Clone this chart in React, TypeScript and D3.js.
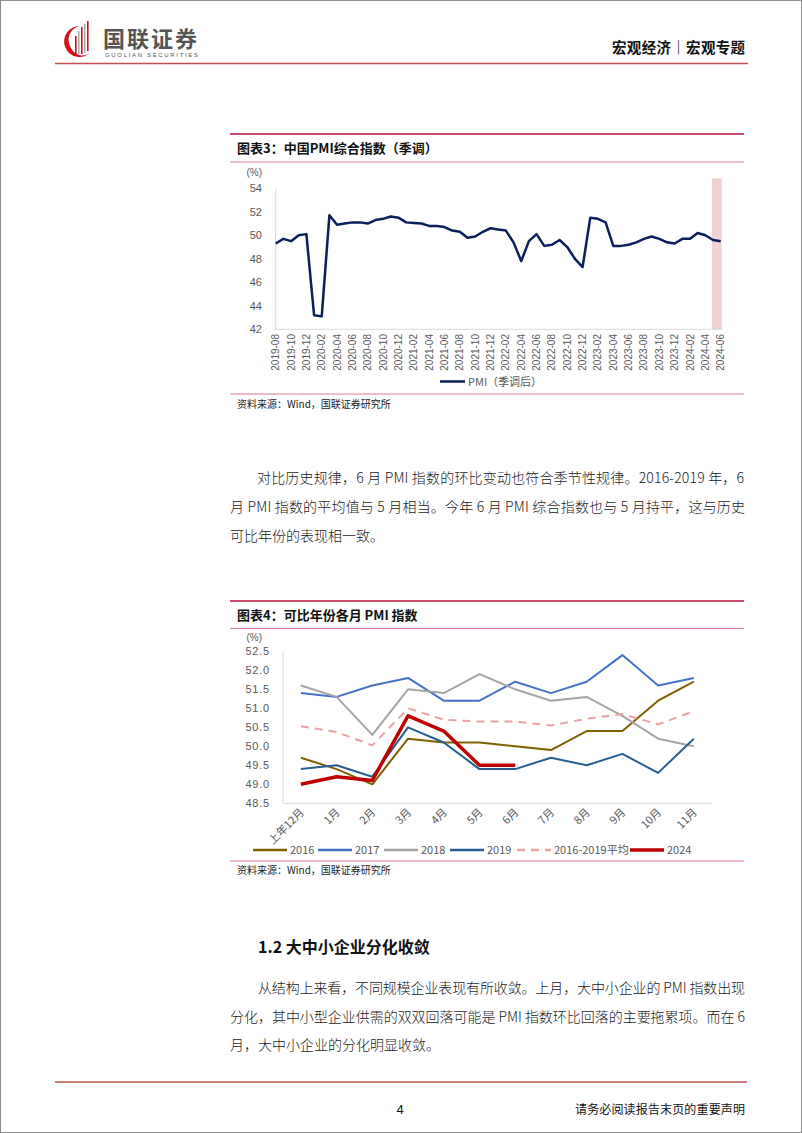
import React from 'react';
import * as d3 from 'd3';

const W = 802;
const H = 1133;

// ---------- Chart 3 data ----------
const pmiMonths = [
  '2019-08','2019-09','2019-10','2019-11','2019-12',
  '2020-01','2020-02','2020-03','2020-04','2020-05','2020-06','2020-07','2020-08','2020-09','2020-10','2020-11','2020-12',
  '2021-01','2021-02','2021-03','2021-04','2021-05','2021-06','2021-07','2021-08','2021-09','2021-10','2021-11','2021-12',
  '2022-01','2022-02','2022-03','2022-04','2022-05','2022-06','2022-07','2022-08','2022-09','2022-10','2022-11','2022-12',
  '2023-01','2023-02','2023-03','2023-04','2023-05','2023-06','2023-07','2023-08','2023-09','2023-10','2023-11','2023-12',
  '2024-01','2024-02','2024-03','2024-04','2024-05','2024-06',
];
const pmiSA = [
  49.3, 49.7, 49.5, 50.0, 50.1,
  43.2, 43.1, 51.7, 50.9, 51.0, 51.1, 51.1, 51.0, 51.3, 51.4, 51.6, 51.5,
  51.1, 51.05, 51.0, 50.8, 50.8, 50.7, 50.4, 50.3, 49.8, 49.9, 50.3, 50.6,
  50.5, 50.4, 49.4, 47.8, 49.5, 50.1, 49.1, 49.2, 49.6, 49.0, 48.0, 47.3,
  51.5, 51.4, 51.1, 49.1, 49.1, 49.2, 49.4, 49.7, 49.9, 49.7, 49.4, 49.3,
  49.7, 49.7, 50.2, 50.0, 49.6, 49.5,
];
const yTicks3 = [42, 44, 46, 48, 50, 52, 54];
const shadeMonths = ['2024-05', '2024-06'];

// ---------- Chart 4 data ----------
const cats4 = ['上年12月', '1月', '2月', '3月', '4月', '5月', '6月', '7月', '8月', '9月', '10月', '11月'];
const y2016 = [49.7, 49.4, 49.0, 50.2, 50.1, 50.1, 50.0, 49.9, 50.4, 50.4, 51.2, 51.7];
const y2017 = [51.4, 51.3, 51.6, 51.8, 51.2, 51.2, 51.7, 51.4, 51.7, 52.4, 51.6, 51.8];
const y2018 = [51.6, 51.3, 50.3, 51.5, 51.4, 51.9, 51.5, 51.2, 51.3, 50.8, 50.2, 50.0];
const y2019 = [49.4, 49.5, 49.2, 50.5, 50.1, 49.4, 49.4, 49.7, 49.5, 49.8, 49.3, 50.2];
const yAvg = [50.525, 50.375, 50.025, 51.0, 50.7, 50.65, 50.65, 50.55, 50.725, 50.85, 50.575, 50.925];
const y2024 = [49.0, 49.2, 49.1, 50.8, 50.4, 49.5, 49.5];
const yTicks4 = [48.5, 49.0, 49.5, 50.0, 50.5, 51.0, 51.5, 52.0, 52.5];

const series4 = [
  { name: '2016', values: y2016, color: '#7f6000', width: 2, dash: '' },
  { name: '2017', values: y2017, color: '#4472c4', width: 2, dash: '' },
  { name: '2018', values: y2018, color: '#a5a5a5', width: 2, dash: '' },
  { name: '2019', values: y2019, color: '#255e91', width: 2, dash: '' },
  { name: '2016-2019平均', values: yAvg, color: '#eaa3a3', width: 2, dash: '8,6' },
  { name: '2024', values: y2024, color: '#c00000', width: 3.5, dash: '' },
];

const AX = '#595959';
const TICKFONT = '"Liberation Sans", Arial, sans-serif';
const CJK = '"Noto Sans CJK SC", sans-serif';

function Chart3() {
  const x = d3.scalePoint<string>().domain(pmiMonths).range([275.7, 720.7]);
  const y = d3.scaleLinear().domain([42, 54]).range([329.3, 188.3]);
  const line = d3
    .line<number>()
    .x((_, i) => x(pmiMonths[i]) as number)
    .y((d) => y(d));
  const sx0 = (x(shadeMonths[0]) as number) - 1;
  const sx1 = (x(shadeMonths[1]) as number) + 1;
  return (
    <g>
      <rect x={sx0} y={y(54.85)} width={sx1 - sx0} height={y(42) - y(54.85)} fill="#f2d2d4" />
      <line x1={275.7} x2={275.7} y1={y(54)} y2={y(42)} stroke="#d9d9d9" />
      <line x1={273} x2={723} y1={y(42)} y2={y(42)} stroke="#d9d9d9" />
      {yTicks3.map((t) => (
        <text key={t} x={262} y={y(t) + 4} textAnchor="end" fontSize={11} fill={AX} fontFamily={TICKFONT}>
          {t}
        </text>
      ))}
      <text x={262} y={176} textAnchor="end" fontSize={10} fill={AX} fontFamily={TICKFONT}>(%)</text>
      {pmiMonths
        .filter((_, i) => i % 2 === 0)
        .map((m) => (
          <text
            key={m}
            transform={`translate(${(x(m) as number) + 3.5},334) rotate(-90)`}
            textAnchor="end"
            fontSize={10}
            fill={AX}
            fontFamily={TICKFONT}
          >
            {m}
          </text>
        ))}
      <path d={line(pmiSA) || ''} fill="none" stroke="#0a1f5c" strokeWidth={2.5} strokeLinejoin="round" />
      <line x1={440} x2={465} y1={381.5} y2={381.5} stroke="#0a1f5c" strokeWidth={2.5} />
      <text x={468} y={385.5} fontSize={11} fill={AX} fontFamily={CJK}>PMI（季调后）</text>
    </g>
  );
}

function Chart4() {
  const x = d3.scaleBand<string>().domain(cats4).range([283, 711.7]);
  const cx = (i: number) => (x(cats4[i]) as number) + x.bandwidth() / 2;
  const y = d3.scaleLinear().domain([48.5, 52.5]).range([803.3, 651.3]);
  const line = d3
    .line<number>()
    .x((_, i) => cx(i))
    .y((d) => y(d));
  const legendX = [253, 318, 384, 450, 517, 630];
  return (
    <g>
      <line x1={283} x2={283} y1={y(52.5)} y2={y(48.5)} stroke="#d9d9d9" />
      <line x1={283} x2={711.7} y1={y(48.5)} y2={y(48.5)} stroke="#d9d9d9" />
      {yTicks4.map((t) => (
        <text key={t} x={270} y={y(t) + 4} textAnchor="end" fontSize={11} fill={AX} fontFamily={TICKFONT} letterSpacing={0.8}>
          {d3.format('.1f')(t)}
        </text>
      ))}
      <text x={262} y={641} textAnchor="end" fontSize={10} fill={AX} fontFamily={TICKFONT}>(%)</text>
      {cats4.map((c, i) => (
        <text
          key={c}
          transform={`translate(${cx(i) + 4},813) rotate(-45)`}
          textAnchor="end"
          fontSize={11}
          fill={AX}
          fontFamily={CJK}
        >
          {c}
        </text>
      ))}
      {series4.map((s) => (
        <path
          key={s.name}
          d={line(s.values) || ''}
          fill="none"
          stroke={s.color}
          strokeWidth={s.width}
          strokeDasharray={s.dash}
          strokeLinejoin="round"
        />
      ))}
      {series4.map((s, i) => (
        <g key={'lg' + s.name}>
          <line
            x1={legendX[i]}
            x2={legendX[i] + 34}
            y1={850}
            y2={850}
            stroke={s.color}
            strokeWidth={s.width === 2 ? 2.5 : 3.5}
            strokeDasharray={s.dash}
          />
          <text x={legendX[i] + 37} y={854} fontSize={11} fill={AX} fontFamily={CJK}>
            {s.name}
          </text>
        </g>
      ))}
    </g>
  );
}

function Para({ lines, y0, step }: { lines: { t: string; x: number; w?: number }[]; y0: number; step: number }) {
  return (
    <g>
      {lines.map((l, i) => (
        <text
          key={i}
          x={l.x}
          y={y0 + i * step}
          fontSize={14}
          fill="#1a1a1a"
          fontFamily={CJK}
          fontWeight={300}
          textLength={l.w}
          lengthAdjust={l.w ? 'spacing' : undefined}
        >
          {l.t}
        </text>
      ))}
    </g>
  );
}

export default function App() {
  return (
    <svg width={W} height={H} style={{ position: 'absolute', left: 0, top: 0, background: '#fff' }}>
      <rect x={0.5} y={0.5} width={W - 1} height={H - 1} fill="#fff" stroke="#8c8c8c" />
      {/* header */}
      <g>
        <path d="M 80 26 A 15.5 15.5 0 1 0 91 52 A 13 14 0 0 1 71 48 A 13 14 0 0 1 80 26 Z" fill="#d0121b" />
        <rect x={75} y={36} width={1.6} height={18} fill="#d0121b" />
        <rect x={78} y={31} width={1.6} height={23} fill="#b0b0b0" />
        <rect x={81} y={27} width={1.6} height={27} fill="#d0121b" />
        <rect x={84} y={24} width={1.6} height={29} fill="#b0b0b0" />
        <rect x={87} y={21} width={1.6} height={30} fill="#d0121b" />
        <text x={103} y={47} fontSize={22} fontWeight={700} fill="#555" fontFamily={CJK} textLength={94}>国联证券</text>
        <text x={105} y={56.5} fontSize={6} fill="#555" fontFamily={TICKFONT} textLength={93}>GUOLIAN SECURITIES</text>
        <text x={612} y={53} fontSize={14.5} fontWeight={700} fill="#111" fontFamily={CJK} textLength={133}>宏观经济｜宏观专题</text>
        <line x1={55} x2={748} y1={63.5} y2={63.5} stroke="#c0504d" strokeWidth={1.5} />
      </g>
      {/* chart 3 frame */}
      <line x1={230} x2={744} y1={134} y2={134} stroke="#b5103a" strokeWidth={1.3} />
      <text x={237} y={153} fontSize={13} fontWeight={700} fill="#111" fontFamily={CJK}>图表3：中国PMI综合指数（季调）</text>
      <line x1={230} x2={744} y1={162} y2={162} stroke="#e07a95" strokeWidth={1} />
      <Chart3 />
      <line x1={230} x2={744} y1={394} y2={394} stroke="#e07a95" strokeWidth={1} />
      <text x={237} y={408} fontSize={10} fill="#222" fontFamily={CJK}>资料来源：Wind，国联证券研究所</text>

      <Para
        y0={483}
        step={29}
        lines={[
          { t: '对比历史规律，6 月 PMI 指数的环比变动也符合季节性规律。2016-2019 年，6', x: 257, w: 487 },
          { t: '月 PMI 指数的平均值与 5 月相当。今年 6 月 PMI 综合指数也与 5 月持平，这与历史', x: 230, w: 515 },
          { t: '可比年份的表现相一致。', x: 230 },
        ]}
      />

      {/* chart 4 frame */}
      <line x1={230} x2={744} y1={601} y2={601} stroke="#b5103a" strokeWidth={1.3} />
      <text x={237} y={620} fontSize={13} fontWeight={700} fill="#111" fontFamily={CJK}>图表4：可比年份各月 PMI 指数</text>
      <line x1={230} x2={744} y1={628.5} y2={628.5} stroke="#e07a95" strokeWidth={1} />
      <Chart4 />
      <line x1={230} x2={744} y1={861} y2={861} stroke="#e07a95" strokeWidth={1} />
      <text x={237} y={874} fontSize={10} fill="#222" fontFamily={CJK}>资料来源：Wind，国联证券研究所</text>

      <text x={258} y={953} fontSize={16} fontWeight={700} fill="#111" fontFamily={CJK}>1.2 大中小企业分化收敛</text>
      <Para
        y0={993}
        step={28.5}
        lines={[
          { t: '从结构上来看，不同规模企业表现有所收敛。上月，大中小企业的 PMI 指数出现', x: 258, w: 487 },
          { t: '分化，其中小型企业供需的双双回落可能是 PMI 指数环比回落的主要拖累项。而在 6', x: 230, w: 515 },
          { t: '月，大中小企业的分化明显收敛。', x: 230 },
        ]}
      />

      {/* footer */}
      <line x1={55} x2={747} y1={1082} y2={1082} stroke="#c0504d" strokeWidth={1.5} />
      <text x={400} y={1114} fontSize={13} fill="#111" fontFamily={TICKFONT} textAnchor="middle">4</text>
      <text x={575} y={1114} fontSize={12} fill="#111" fontFamily={CJK} textLength={170}>请务必阅读报告末页的重要声明</text>
    </svg>
  );
}
